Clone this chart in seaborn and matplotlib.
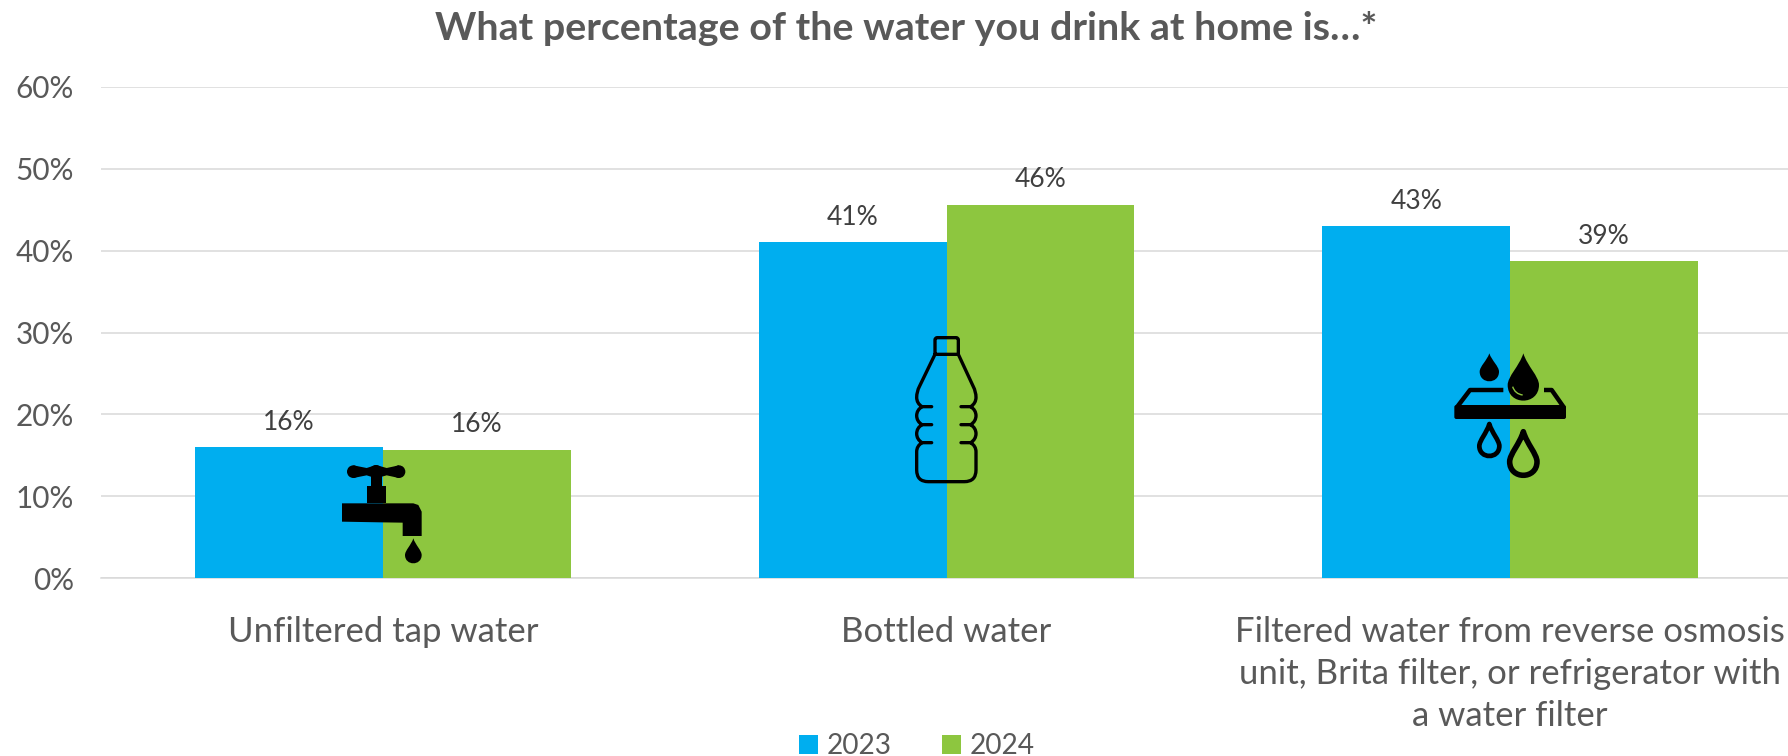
import matplotlib
matplotlib.use("Agg")
import matplotlib.pyplot as plt
from matplotlib.path import Path
from matplotlib.patches import PathPatch, Circle, Polygon, FancyBboxPatch
import pandas as pd
import seaborn as sns

categories = ["Unfiltered tap water", "Bottled water",
              "Filtered water from reverse osmosis\nunit, Brita filter, or refrigerator with\na water filter"]
values_2023 = [16.0, 41.0, 43.0]
values_2024 = [15.7, 45.6, 38.7]
years = ["2023", "2024"]
colors = ["#00AEEF", "#8DC63F"]
y_ticks = [0, 10, 20, 30, 40, 50, 60]
title = "What percentage of the water you drink at home is\u2026*"

sns.set_theme(style="white")
plt.rcParams["font.family"] = ["Lato", "DejaVu Sans"]

W, H = 1788, 756
fig = plt.figure(figsize=(W / 100, H / 100), dpi=100)
ax = fig.add_axes([101 / W, 1 - 578 / H, (1792 - 101) / W, (578 - 87) / H])

df = pd.DataFrame({
    "category": categories * 2,
    "year": [years[0]] * 3 + [years[1]] * 3,
    "value": values_2023 + values_2024,
})
sns.barplot(data=df, x="category", y="value", hue="year", palette=colors, width=0.667,
            gap=0, saturation=1, ax=ax, zorder=3, edgecolor="none", linewidth=0)
handles, labels = ax.get_legend_handles_labels()
ax.get_legend().remove()

ax.set_ylim(0, 60)
ax.set_xlim(-0.5, 2.5)
ax.set_yticks(y_ticks)
ax.set_yticklabels([f"{v}%" for v in y_ticks], fontsize=21.4, color="#595959")
ax.set_xlabel("")
ax.set_ylabel("")
ax.tick_params(axis="x", length=0, pad=27, labelsize=25, labelcolor="#595959")
ax.tick_params(axis="y", length=0, pad=19.5)
for lab in ax.get_xticklabels():
    lab.set_linespacing(1.4)
ax.grid(axis="y", color="#D9D9D9", linewidth=1.1, zorder=0)
ax.set_axisbelow(True)
for s in ax.spines.values():
    s.set_visible(False)
ax.spines["bottom"].set_visible(True)
ax.spines["bottom"].set_color("#D9D9D9")
ax.spines["bottom"].set_linewidth(1.1)

for c in ax.containers:
    ax.bar_label(c, fmt="%.0f%%", padding=9, fontsize=19, color="#404040")

fig.text(906 / W, 1 - 28 / H, title, ha="center", va="center",
         fontsize=28.4, fontweight="bold", color="#595959")

fig.legend(handles, labels, loc="lower left", bbox_to_anchor=(791 / W, -11.5 / H), ncol=2,
           frameon=False, fontsize=20.2, labelcolor="#595959", handlelength=0.68,
           handleheight=0.68, handletextpad=0.3, columnspacing=1.8,
           borderpad=0.3, borderaxespad=0)

# --- decorative pictograms drawn in an overlay in pixel space ---
ov = fig.add_axes([0, 0, 1, 1], facecolor="none")
ov.set_xlim(0, W)
ov.set_ylim(H, 0)
ov.axis("off")
K = "black"


def zpt(p, o):
    return (o[0] + p[0] / 3, o[1] + p[1] / 3)


def drop(o, tip, c, r, solid=True, lw=0):
    tx, ty = tip
    cx, cy = c
    d = cy - ty
    v = [(tx, ty), (tx - r * .25, ty + d * .4), (cx - r, cy - r * .55),
         (cx - r, cy), (cx - r, cy + r * 1.33), (cx + r, cy + r * 1.33), (cx + r, cy),
         (cx + r, cy - r * .55), (tx + r * .25, ty + d * .4), (tx, ty), (tx, ty)]
    code = [Path.MOVETO, Path.CURVE4, Path.CURVE4, Path.CURVE4, Path.CURVE4, Path.CURVE4, Path.CURVE4,
            Path.CURVE4, Path.CURVE4, Path.CURVE4, Path.CLOSEPOLY]
    ov.add_patch(PathPatch(Path([zpt(p, o) for p in v], code),
                           facecolor=K if solid else "none", edgecolor=K,
                           linewidth=lw, joinstyle="round"))


# tap
o = (320, 440)
for cx, r in [(100, 19), (237, 19), (168, 20)]:
    x, y = zpt((cx, 95), o)
    ov.add_patch(Circle((x, y), r / 3, color=K, lw=0))
for poly in [
    [(100, 76), (140, 84), (168, 75), (200, 84), (237, 76), (237, 114), (200, 106), (168, 115), (140, 106), (100, 114)],
    [(153, 100), (185, 100), (185, 140), (153, 140)],
    [(140, 138), (197, 138), (197, 190), (140, 190)],
    [(66, 190), (280, 190), (295, 195), (305, 215), (305, 288), (248, 288), (248, 248), (180, 247), (66, 245)],
]:
    ov.add_patch(Polygon([zpt(p, o) for p in poly], closed=True, color=K, lw=0))
drop(o, (280, 295), (280, 345), 25)

# bottle
o = (890, 320)
M, L, Q = Path.MOVETO, Path.LINETO, Path.CURVE3
seg = [
    (M, (135, 103)), (L, (135, 60)), (Q, (135, 53)), (Q, (142, 53)), (L, (198, 53)), (Q, (205, 53)), (Q, (205, 60)),
    (L, (205, 103)), (L, (135, 103)),
    (L, (88, 200)), (Q, (80, 215)), (Q, (80, 232)), (Q, (80, 250)), (Q, (96, 260)), (L, (125, 260)),
    (M, (96, 260)), (Q, (80, 270)), (Q, (80, 287)), (Q, (80, 304)), (Q, (96, 314)), (L, (125, 314)),
    (M, (96, 314)), (Q, (80, 324)), (Q, (80, 341)), (Q, (80, 358)), (Q, (96, 368)), (L, (125, 368)),
    (M, (96, 368)), (Q, (80, 378)), (Q, (80, 395)), (L, (80, 450)), (Q, (80, 485)), (Q, (115, 485)),
    (L, (223, 485)), (Q, (258, 485)), (Q, (258, 450)), (L, (258, 395)), (Q, (258, 378)), (Q, (242, 368)),
    (L, (213, 368)),
    (M, (242, 368)), (Q, (258, 358)), (Q, (258, 341)), (Q, (258, 324)), (Q, (242, 314)), (L, (213, 314)),
    (M, (242, 314)), (Q, (258, 304)), (Q, (258, 287)), (Q, (258, 270)), (Q, (242, 260)), (L, (213, 260)),
    (M, (242, 260)), (Q, (258, 250)), (Q, (258, 232)), (Q, (258, 215)), (Q, (250, 200)), (L, (205, 103)),
]
ov.add_patch(PathPatch(Path([zpt(p, o) for _, p in seg], [c for c, _ in seg]),
                       facecolor="none", edgecolor=K, linewidth=2.4, joinstyle="round", capstyle="round"))

# filter
o = (1440, 340)
drop(o, (148, 40), (148, 95), 29)
drop(o, (250, 40), (250, 135), 47)
hl = [(M, (218, 140)), (Q, (225, 162)), (Q, (248, 165))]
ov.add_patch(PathPatch(Path([zpt(p, o) for _, p in hl], [c for c, _ in hl]),
                       facecolor="none", edgecolor="#8DC63F", linewidth=1.0))
x0, y0 = zpt((43, 195), o)
x1, y1 = zpt((378, 237), o)
ov.add_patch(FancyBboxPatch((x0 + 2, y0 + 2), x1 - x0 - 4, y1 - y0 - 4, boxstyle="round,pad=2",
                            facecolor=K, edgecolor="none"))
for line in [[(190, 150), (90, 150), (52, 200)], [(312, 150), (335, 150), (370, 200)]]:
    ov.add_patch(Polygon([zpt(p, o) for p in line], closed=False, fill=False, edgecolor=K,
                         linewidth=3.2, joinstyle="round"))
drop(o, (148, 252), (148, 318), 30, solid=False, lw=3.4)
drop(o, (250, 275), (250, 365), 41, solid=False, lw=4.0)

fig.savefig("out.png", dpi=100)
